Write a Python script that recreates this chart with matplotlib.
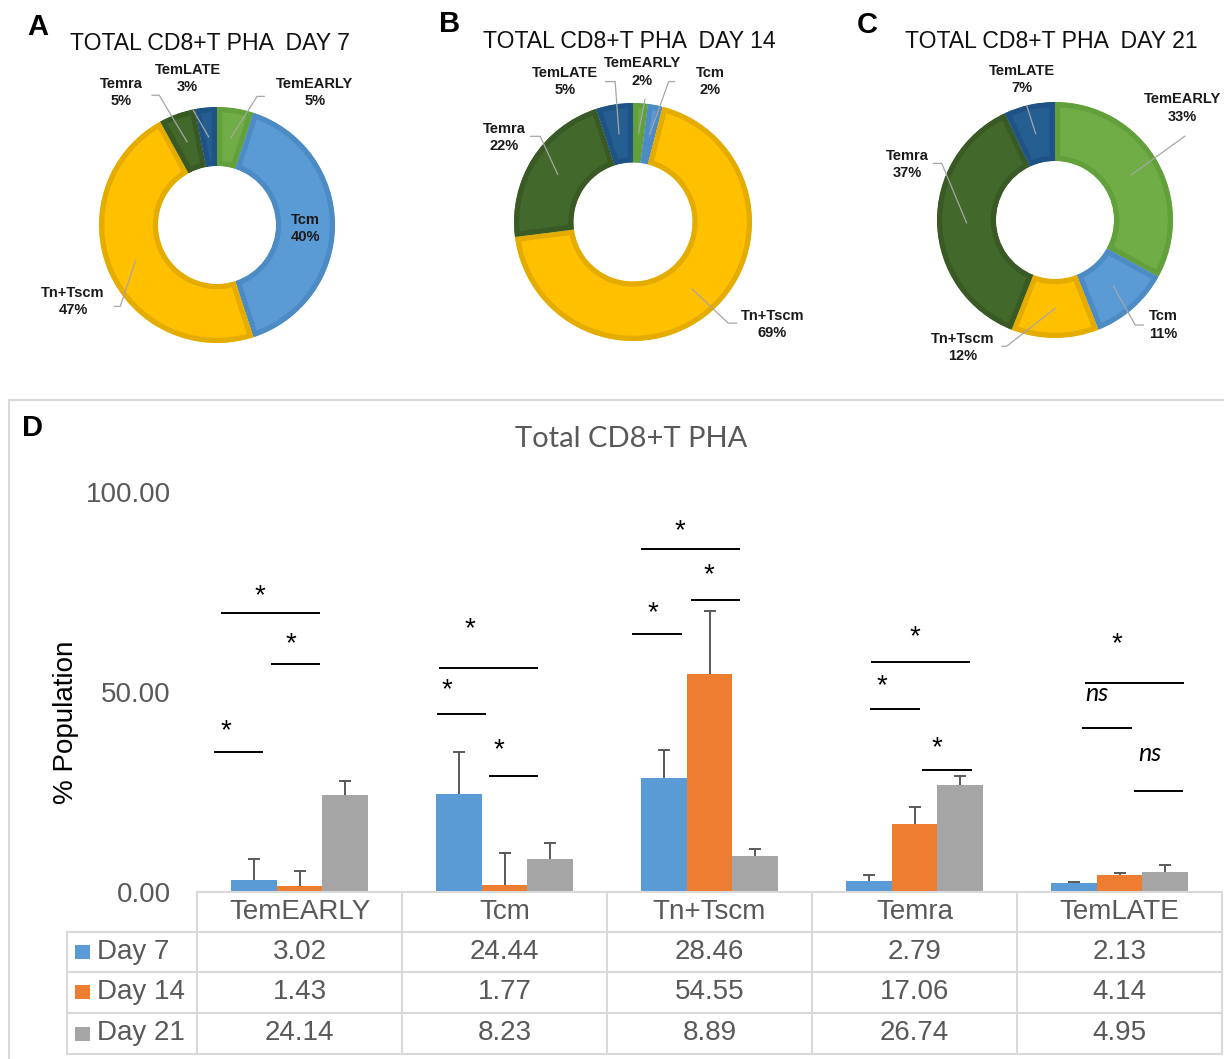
import matplotlib
matplotlib.use("Agg")
import numpy as np
import matplotlib.pyplot as plt
import matplotlib.transforms as mtransforms
from matplotlib.patches import Rectangle
from matplotlib.lines import Line2D

plt.rcParams["font.family"] = ["Liberation Sans", "DejaVu Sans"]

# ---------------- data ----------------
subsets = ["TemEARLY", "Tcm", "Tn+Tscm", "Temra", "TemLATE"]
days = ["Day 7", "Day 14", "Day 21"]

day7 = [3.02, 24.44, 28.46, 2.79, 2.13]
day14 = [1.43, 1.77, 54.55, 17.06, 4.14]
day21 = [24.14, 8.23, 8.89, 26.74, 4.95]

err7 = [5.2, 10.6, 7.0, 1.5, 0.4]
err14 = [3.8, 8.0, 15.7, 4.2, 0.6]
err21 = [3.6, 4.0, 1.9, 2.3, 1.8]

pct_day7 = [5, 40, 47, 5, 3]
pct_day14 = [2, 2, 69, 22, 5]
pct_day21 = [33, 11, 12, 37, 7]

yticks = [0, 50, 100]

# ---------------- styling ----------------
W, H, DPI = 1224, 1059, 100
slice_colors = ["#70AD47", "#5B9BD5", "#FFC000", "#43682B", "#255E91"]
slice_edges = ["#62A03B", "#4D8BC5", "#E5AC00", "#395A24", "#1F5385"]
bar_colors = ["#5B9BD5", "#ED7D31", "#A5A5A5"]
grid_gray = "#D9D9D9"
text_gray = "#595959"
leader_gray = "#A6A6A6"

fig = plt.figure(figsize=(W / DPI, H / DPI), dpi=DPI)


def fx(px):
    return px / W


def fy(py):
    return 1 - py / H


# ---------------- donut panels ----------------
def draw_donut(cx, cy, R, pcts, title, title_xy, letter, letter_xy, labels):
    hw, hh = 1.8, 1.6
    ax = fig.add_axes([fx(cx - hw * R), fy(cy + hh * R), 2 * hw * R / W, 2 * hh * R / H])
    wedges, _ = ax.pie(pcts, colors=slice_colors, startangle=90, counterclock=False,
                       radius=1.0, wedgeprops=dict(width=0.5, linewidth=0))
    for w, ec in zip(wedges, slice_edges):
        # darker inset border: stroke clipped to the wedge itself
        w.set_edgecolor(ec)
        w.set_linewidth(7.5)
        w.set_clip_on(True)
        w.set_clip_path(w)
    ax.set_xlim(-hw, hw)
    ax.set_ylim(-hh, hh)
    ax.set_aspect("auto")
    ax.axis("off")

    cum = np.concatenate([[0], np.cumsum(pcts)])
    for i, (name, txy, path) in enumerate(labels):
        ax.text(txy[0], txy[1], f"{name}\n{pcts[i]}%", ha="center", va="center",
                fontsize=10.5, fontweight="bold", color="#1a1a1a", linespacing=1.3)
        if path:
            theta = np.deg2rad(360 * (cum[i] + pcts[i] / 2) / 100)
            xs = [0.75 * np.sin(theta)] + [p[0] for p in path]
            ys = [0.75 * np.cos(theta)] + [p[1] for p in path]
            ax.plot(xs, ys, color=leader_gray, lw=0.9, clip_on=False)

    fig.text(fx(title_xy[0]), fy(title_xy[1]), title, ha="center", va="center",
             fontsize=16.6, color="#111111")
    fig.text(fx(letter_xy[0]), fy(letter_xy[1]), letter, ha="center", va="center",
             fontsize=21, fontweight="bold", color="black")


labels_a = [
    ("TemEARLY", (0.83, 1.12), [(0.34, 1.09), (0.40, 1.09)]),
    ("Tcm", (0.75, -0.03), None),
    ("Tn+Tscm", (-1.22, -0.65), [(-0.82, -0.69), (-0.87, -0.69)]),
    ("Temra", (-0.81, 1.12), [(-0.49, 1.10), (-0.55, 1.10)]),
    ("TemLATE", (-0.25, 1.24), [(-0.20, 0.97)]),
]
labels_b = [
    ("TemEARLY", (0.08, 1.26), [(0.10, 1.03)]),
    ("Tcm", (0.65, 1.18), [(0.30, 1.18), (0.35, 1.18)]),
    ("Tn+Tscm", (1.17, -0.86), [(0.80, -0.85), (0.87, -0.85)]),
    ("Temra", (-1.08, 0.71), [(-0.78, 0.72), (-0.86, 0.72)]),
    ("TemLATE", (-0.57, 1.18), [(-0.15, 1.18), (-0.23, 1.18)]),
]
labels_c = [
    ("TemEARLY", (1.08, 0.95), [(1.10, 0.71)]),
    ("Tcm", (0.92, -0.89), [(0.68, -0.89), (0.75, -0.89)]),
    ("Tn+Tscm", (-0.78, -1.08), [(-0.41, -1.07), (-0.45, -1.07)]),
    ("Temra", (-1.25, 0.47), [(-0.96, 0.48), (-1.03, 0.48)]),
    ("TemLATE", (-0.28, 1.19), [(-0.24, 0.97)]),
]

draw_donut(217, 225, 118, pct_day7, "TOTAL CD8+T PHA  DAY 7", (210, 44), "A", (38, 27), labels_a)
draw_donut(633, 222, 119, pct_day14, "TOTAL CD8+T PHA  DAY 14", (629, 42), "B", (450, 24), labels_b)
draw_donut(1055, 220, 118, pct_day21, "TOTAL CD8+T PHA  DAY 21", (1051, 42), "C", (867, 25), labels_c)

# ---------------- panel D frame ----------------
fig.patches.append(Rectangle((fx(9), fy(1070)), fx(1240 - 9), fy(400) - fy(1070),
                             transform=fig.transFigure, fill=False,
                             edgecolor=grid_gray, lw=1.5))
fig.text(fx(33), fy(428), "D", ha="center", va="center", fontsize=21,
         fontweight="bold", color="black")
fig.text(fx(631), fy(439), "Total CD8+T PHA", ha="center", va="center",
         fontsize=21, family=["Lato", "DejaVu Sans"], color=text_gray)
fig.text(fx(66), fy(722), "% Population", ha="center", va="center", rotation=90,
         fontsize=20, color="black")

# ---------------- bar chart ----------------
ax = fig.add_axes([fx(197), fy(892), 1025 / W, 400 / H])
x = np.arange(len(subsets))
bw = 0.222
series = [day7, day14, day21]
errs = [err7, err14, err21]
for k, (vals, e, col) in enumerate(zip(series, errs, bar_colors)):
    xpos = x + (k - 1) * bw
    vals = np.asarray(vals)
    e = np.asarray(e)
    ax.bar(xpos, vals, bw, color=col, linewidth=0, zorder=2)
    # upper-only error bars with a cap at the top end
    ax.errorbar(xpos, vals, yerr=[np.zeros(len(e)), e], fmt="none",
                ecolor=text_gray, elinewidth=1.4, capsize=0, zorder=2.5)
    ax.plot(xpos, vals + e, ls="none", marker="_", ms=8, mew=1.4,
            color=text_gray, zorder=2.5)

ax.set_xlim(-0.5, len(subsets) - 0.5)
ax.set_ylim(0, 100)
ax.set_yticks(yticks)
ax.set_yticklabels([f"{v:.2f}" for v in yticks])
ax.tick_params(axis="y", length=0, pad=19, labelsize=20, labelcolor=text_gray)
ax.set_xticks([])
for s in ["left", "right", "top"]:
    ax.spines[s].set_visible(False)
ax.spines["bottom"].set_color(grid_gray)
ax.spines["bottom"].set_linewidth(1.5)

# significance brackets: (category, x0, x1, y, label, label_x, label_y)
brackets = [
    (0, -0.383, 0.100, 69.75, "*", -0.193, 76.25),
    (0, -0.139, 0.100, 57.0, "*", -0.041, 64.25),
    (0, -0.417, -0.178, 35.0, "*", -0.359, 42.5),
    (1, -0.320, 0.163, 56.0, "*", -0.168, 68.0),
    (1, -0.329, -0.090, 44.5, "*", -0.280, 52.75),
    (1, -0.076, 0.163, 29.0, "*", -0.027, 37.75),
    (2, -0.334, 0.149, 85.75, "*", -0.144, 92.5),
    (2, -0.090, 0.149, 73.0, "*", -0.002, 81.5),
    (2, -0.378, -0.134, 64.5, "*", -0.276, 72.0),
    (3, -0.212, 0.271, 57.5, "*", 0.002, 66.0),
    (3, -0.217, 0.027, 45.75, "*", -0.159, 53.75),
    (3, 0.037, 0.280, 30.5, "*", 0.110, 38.25),
    (4, -0.168, 0.315, 52.25, "*", -0.012, 64.25),
    (4, -0.183, 0.061, 41.0, "ns", -0.109, 47.75),
    (4, 0.071, 0.310, 25.25, "ns", 0.149, 32.8),
]
for cat, x0, x1, yl, lab, lx, ly in brackets:
    ax.plot([cat + x0, cat + x1], [yl, yl], color="black", lw=1.4,
            solid_capstyle="butt", clip_on=False, zorder=3)
    if lab == "*":
        ax.text(cat + lx, ly - 4.0, "*", ha="center", va="baseline", fontsize=20,
                color="black", clip_on=False)
    else:
        ax.text(cat + lx, ly, lab, ha="center", va="baseline", fontsize=18,
                style="italic", family=["Lato", "DejaVu Sans"], color="black",
                clip_on=False)

# ---------------- data table ----------------
tr = mtransforms.blended_transform_factory(ax.transData, ax.transAxes)


def ay(py):
    return (892 - py) / 400.0


row_lines = [932, 972, 1013, 1054]
row_centers = [952, 992.5, 1033.5]
key_left = -1.095
left_edge = -1.134

for cat in range(len(subsets) + 1):
    ax.add_line(Line2D([cat - 0.5, cat - 0.5], [ay(892), ay(1054)], transform=tr,
                       color=grid_gray, lw=1.5, clip_on=False))
ax.add_line(Line2D([left_edge, left_edge], [ay(932), ay(1054)], transform=tr,
                   color=grid_gray, lw=1.5, clip_on=False))
for py in row_lines:
    ax.add_line(Line2D([left_edge, len(subsets) - 0.5], [ay(py), ay(py)], transform=tr,
                       color=grid_gray, lw=1.5, clip_on=False))

for i, name in enumerate(subsets):
    ax.text(i, ay(912), name, transform=tr, ha="center", va="center", fontsize=20,
            color=text_gray)
for r, (day, vals, col) in enumerate(zip(days, series, bar_colors)):
    yc = ay(row_centers[r])
    ax.add_patch(Rectangle((key_left, yc - 7 / 400), 0.073, 14 / 400, transform=tr,
                           facecolor=col, edgecolor="none", clip_on=False))
    ax.text(-0.988, yc, day, transform=tr, ha="left", va="center", fontsize=20,
            color=text_gray)
    for i, v in enumerate(vals):
        ax.text(i, yc, f"{v:.2f}", transform=tr, ha="center", va="center",
                fontsize=20, color=text_gray)

fig.savefig("out.png", dpi=DPI)
